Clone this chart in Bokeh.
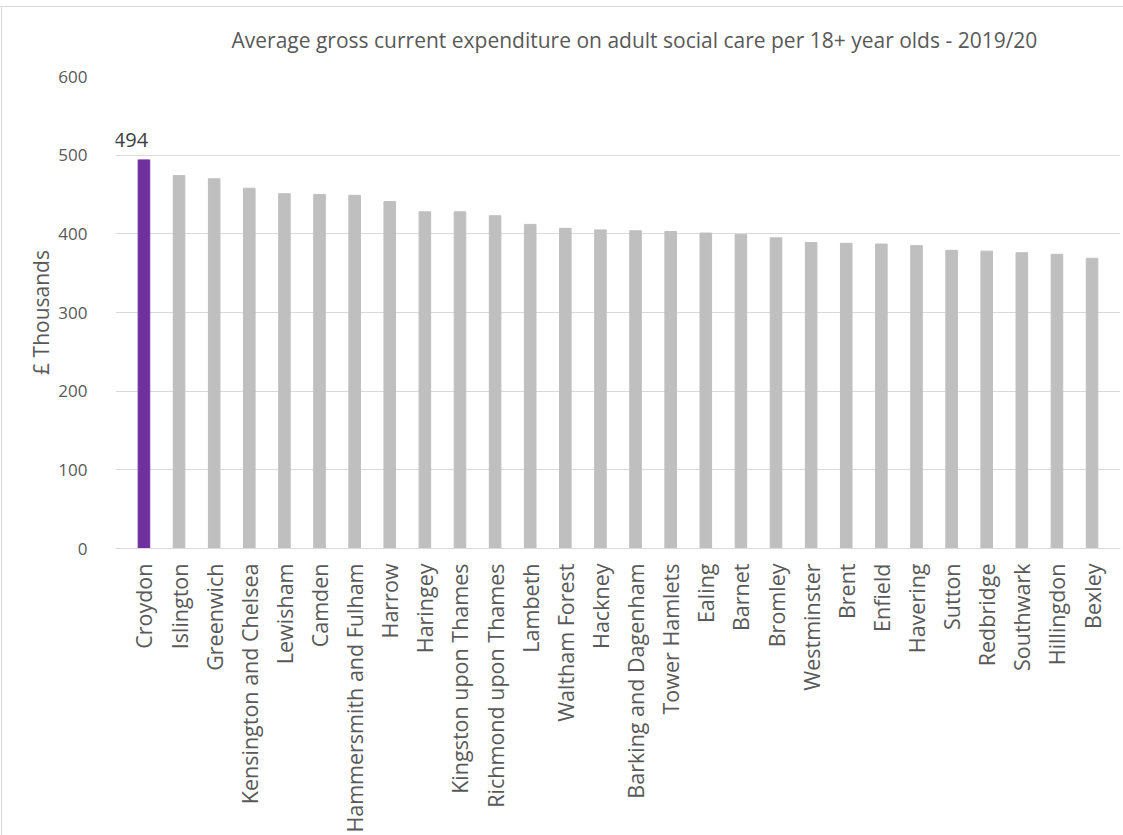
import math
from bokeh.plotting import figure
from bokeh.models import FactorRange, Range1d, FixedTicker
from bokeh.core.properties import value
from bokeh.embed import file_html
from bokeh.resources import INLINE

boroughs = ["Croydon", "Islington", "Greenwich", "Kensington and Chelsea", "Lewisham",
            "Camden", "Hammersmith and Fulham", "Harrow", "Haringey", "Kingston upon Thames",
            "Richmond upon Thames", "Lambeth", "Waltham Forest", "Hackney",
            "Barking and Dagenham", "Tower Hamlets", "Ealing", "Barnet", "Bromley",
            "Westminster", "Brent", "Enfield", "Havering", "Sutton", "Redbridge",
            "Southwark", "Hillingdon", "Bexley"]
expenditure = [494, 474, 470, 458, 451, 450, 449, 441, 428, 428, 423, 412, 407, 405,
               404, 403, 401, 399, 395, 389, 388, 387, 385, 379, 378, 376, 374, 369]
highlight = "Croydon"
y_ticks = [0, 100, 200, 300, 400, 500, 600]
title_text = "Average gross current expenditure on adult social care per 18+ year olds - 2019/20"

FONT = "Open Sans"
TXT = "#595959"

colors = ["#7030A0" if b == highlight else "#BFBFBF" for b in boroughs]

p = figure(width=1123, height=835, output_backend="svg", toolbar_location=None,
           x_range=FactorRange(factors=boroughs, range_padding=0.31,
                               range_padding_units="absolute"),
           y_range=Range1d(0, 600),
           min_border_left=115, min_border_right=3, min_border_top=75,
           min_border_bottom=285)
p.border_fill_color = None
p.styles = {"background": "linear-gradient(#d9d9d9, #d9d9d9) 0px 6px / 100% 1px no-repeat, "
                          "linear-gradient(#d9d9d9, #d9d9d9) 1px 6px / 1px 100% no-repeat, white"}

p.vbar(x=boroughs, top=expenditure, width=0.33, color=colors)

hi_idx = boroughs.index(highlight)
p.text(x=[boroughs[hi_idx]], y=[expenditure[hi_idx]], text=[str(expenditure[hi_idx])],
       text_align="center", text_baseline="alphabetic", y_offset=-20, x_offset=-13,
       text_font=value(FONT), text_font_size="20px", text_color="#404040")

p.title.text = title_text
p.title.align = "left"
p.title.offset = 116
p.title.text_font = FONT
p.title.text_font_size = "21px"
p.title.text_font_style = "normal"
p.title.text_color = TXT
p.title.standoff = 46

p.outline_line_color = None
p.background_fill_color = "white"

p.xgrid.grid_line_color = None
p.ygrid.ticker = FixedTicker(ticks=[100, 200, 300, 400, 500])
p.ygrid.grid_line_color = "#d9d9d9"

p.yaxis.ticker = FixedTicker(ticks=y_ticks)
p.yaxis.axis_line_color = None
p.yaxis.major_tick_line_color = None
p.yaxis.minor_tick_line_color = None
p.yaxis.major_label_standoff = 22
p.yaxis.major_label_text_font = FONT
p.yaxis.major_label_text_font_size = "17px"
p.yaxis.major_label_text_color = TXT
p.yaxis.axis_label = "£ Thousands"
p.yaxis.axis_label_text_font = FONT
p.yaxis.axis_label_text_font_size = "21px"
p.yaxis.axis_label_text_font_style = "normal"
p.yaxis.axis_label_text_color = TXT
p.yaxis.axis_label_standoff = 0

p.xaxis.axis_line_color = "#d9d9d9"
p.xaxis.major_tick_line_color = None
p.xaxis.minor_tick_line_color = None
p.xaxis.major_label_orientation = math.pi / 2
p.xaxis.major_label_standoff = 9
p.xaxis.major_label_text_font = FONT
p.xaxis.major_label_text_font_size = "21.5px"
p.xaxis.major_label_text_color = TXT

open("out.html", "w").write(file_html(p, INLINE))
